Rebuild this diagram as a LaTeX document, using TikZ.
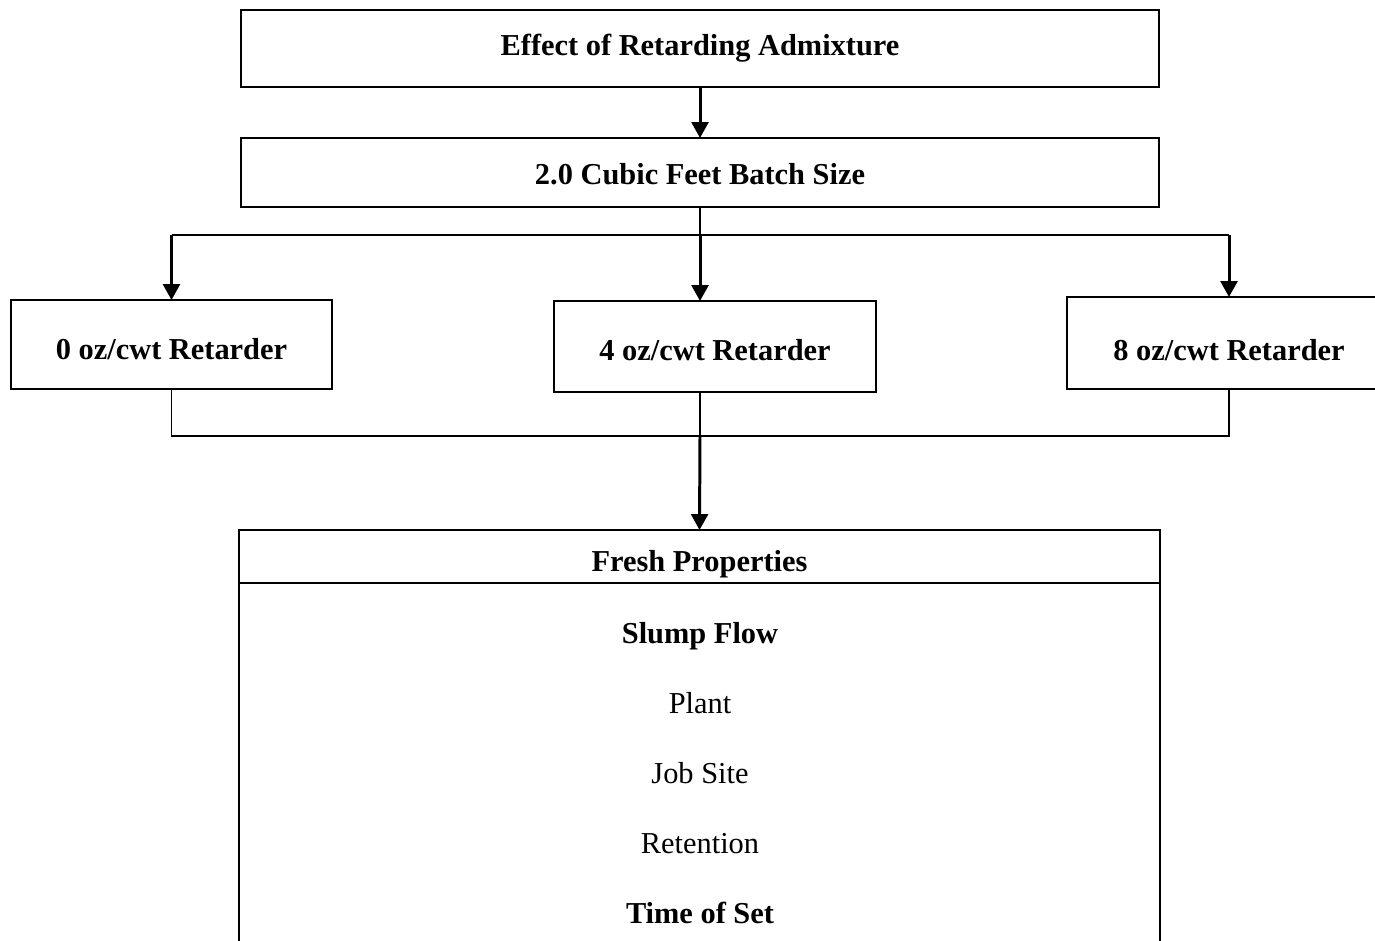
\documentclass[tikz,border=0pt]{standalone}
\usepackage{fontspec}
\setmainfont{Liberation Serif}
\usetikzlibrary{arrows.meta}
\tikzset{
  box/.style={draw, line width=1.1pt, inner sep=0pt, outer sep=0pt, font=\fontsize{17.3}{20}\selectfont\bfseries},
  lift/.style={text height=#1, text depth=0pt},
  arr/.style={-{Triangle[length=9pt,width=9.5pt]}, line width=1.7pt},
  link/.style={line width=0.8pt}
}
\begin{document}
\begin{tikzpicture}[x=0.02cm, y=-0.02cm, every node/.style={font=\fontsize{17.3}{20}\selectfont}]
  \useasboundingbox (0,0) rectangle (1375,940);

  \node[box, lift=7.4pt, minimum width=18.36cm, minimum height=1.54cm] (admix) at (700,48.5) {Effect of Retarding Admixture};
  \node[box, lift=13.1pt, minimum width=18.36cm, minimum height=1.38cm] (batch) at (700,172.5) {2.0 Cubic Feet Batch Size};
  \draw[arr] (admix) -- (batch);

  \node[box, lift=17.6pt, minimum width=6.42cm, minimum height=1.78cm] (ret0) at (171.5,344.5) {0 oz/cwt Retarder};
  \node[box, lift=15.4pt, minimum width=6.44cm, minimum height=1.82cm] (ret4) at (715,346.5) {4 oz/cwt Retarder};
  \node[box, lift=19.4pt, minimum width=6.48cm, minimum height=1.84cm] (ret8) at (1229,343) {8 oz/cwt Retarder};

  \coordinate (split) at (700,235);
  \coordinate (join) at (700,436);

  \draw[link] (batch.south -| split) -- (split);
  \draw[link] (ret0.north |- split) -- (ret8.north |- split);
  \draw[arr] (ret0.north |- split) -- (ret0.north);
  \draw[arr] (split) -- (split |- ret4.north);
  \draw[arr] (ret8.north |- split) -- (ret8.north);

  \draw[link] (ret0.south) |- (ret8.south |- join) -- (ret8.south);
  \draw[link] (join |- ret4.south) -- (join);

  \node[box, lift=17.6pt, minimum width=18.42cm, minimum height=1.06cm] (fresh) at (699.5,556.5) {Fresh Properties};
  \draw[line width=1.1pt] (fresh.south west) -- ++(0,400);
  \draw[line width=1.1pt] (fresh.south east) -- ++(0,400);
  \draw[arr] (join) -- (fresh.north);

  \foreach \y/\t [count=\i] in {633/\textbf{Slump Flow},703/Plant,773/Job Site,843/Retention,913/\textbf{Time of Set}}
    \node[lift=11.4pt, inner sep=0pt] (prop\i) at (700,\y) {\t};
\end{tikzpicture}
\end{document}
